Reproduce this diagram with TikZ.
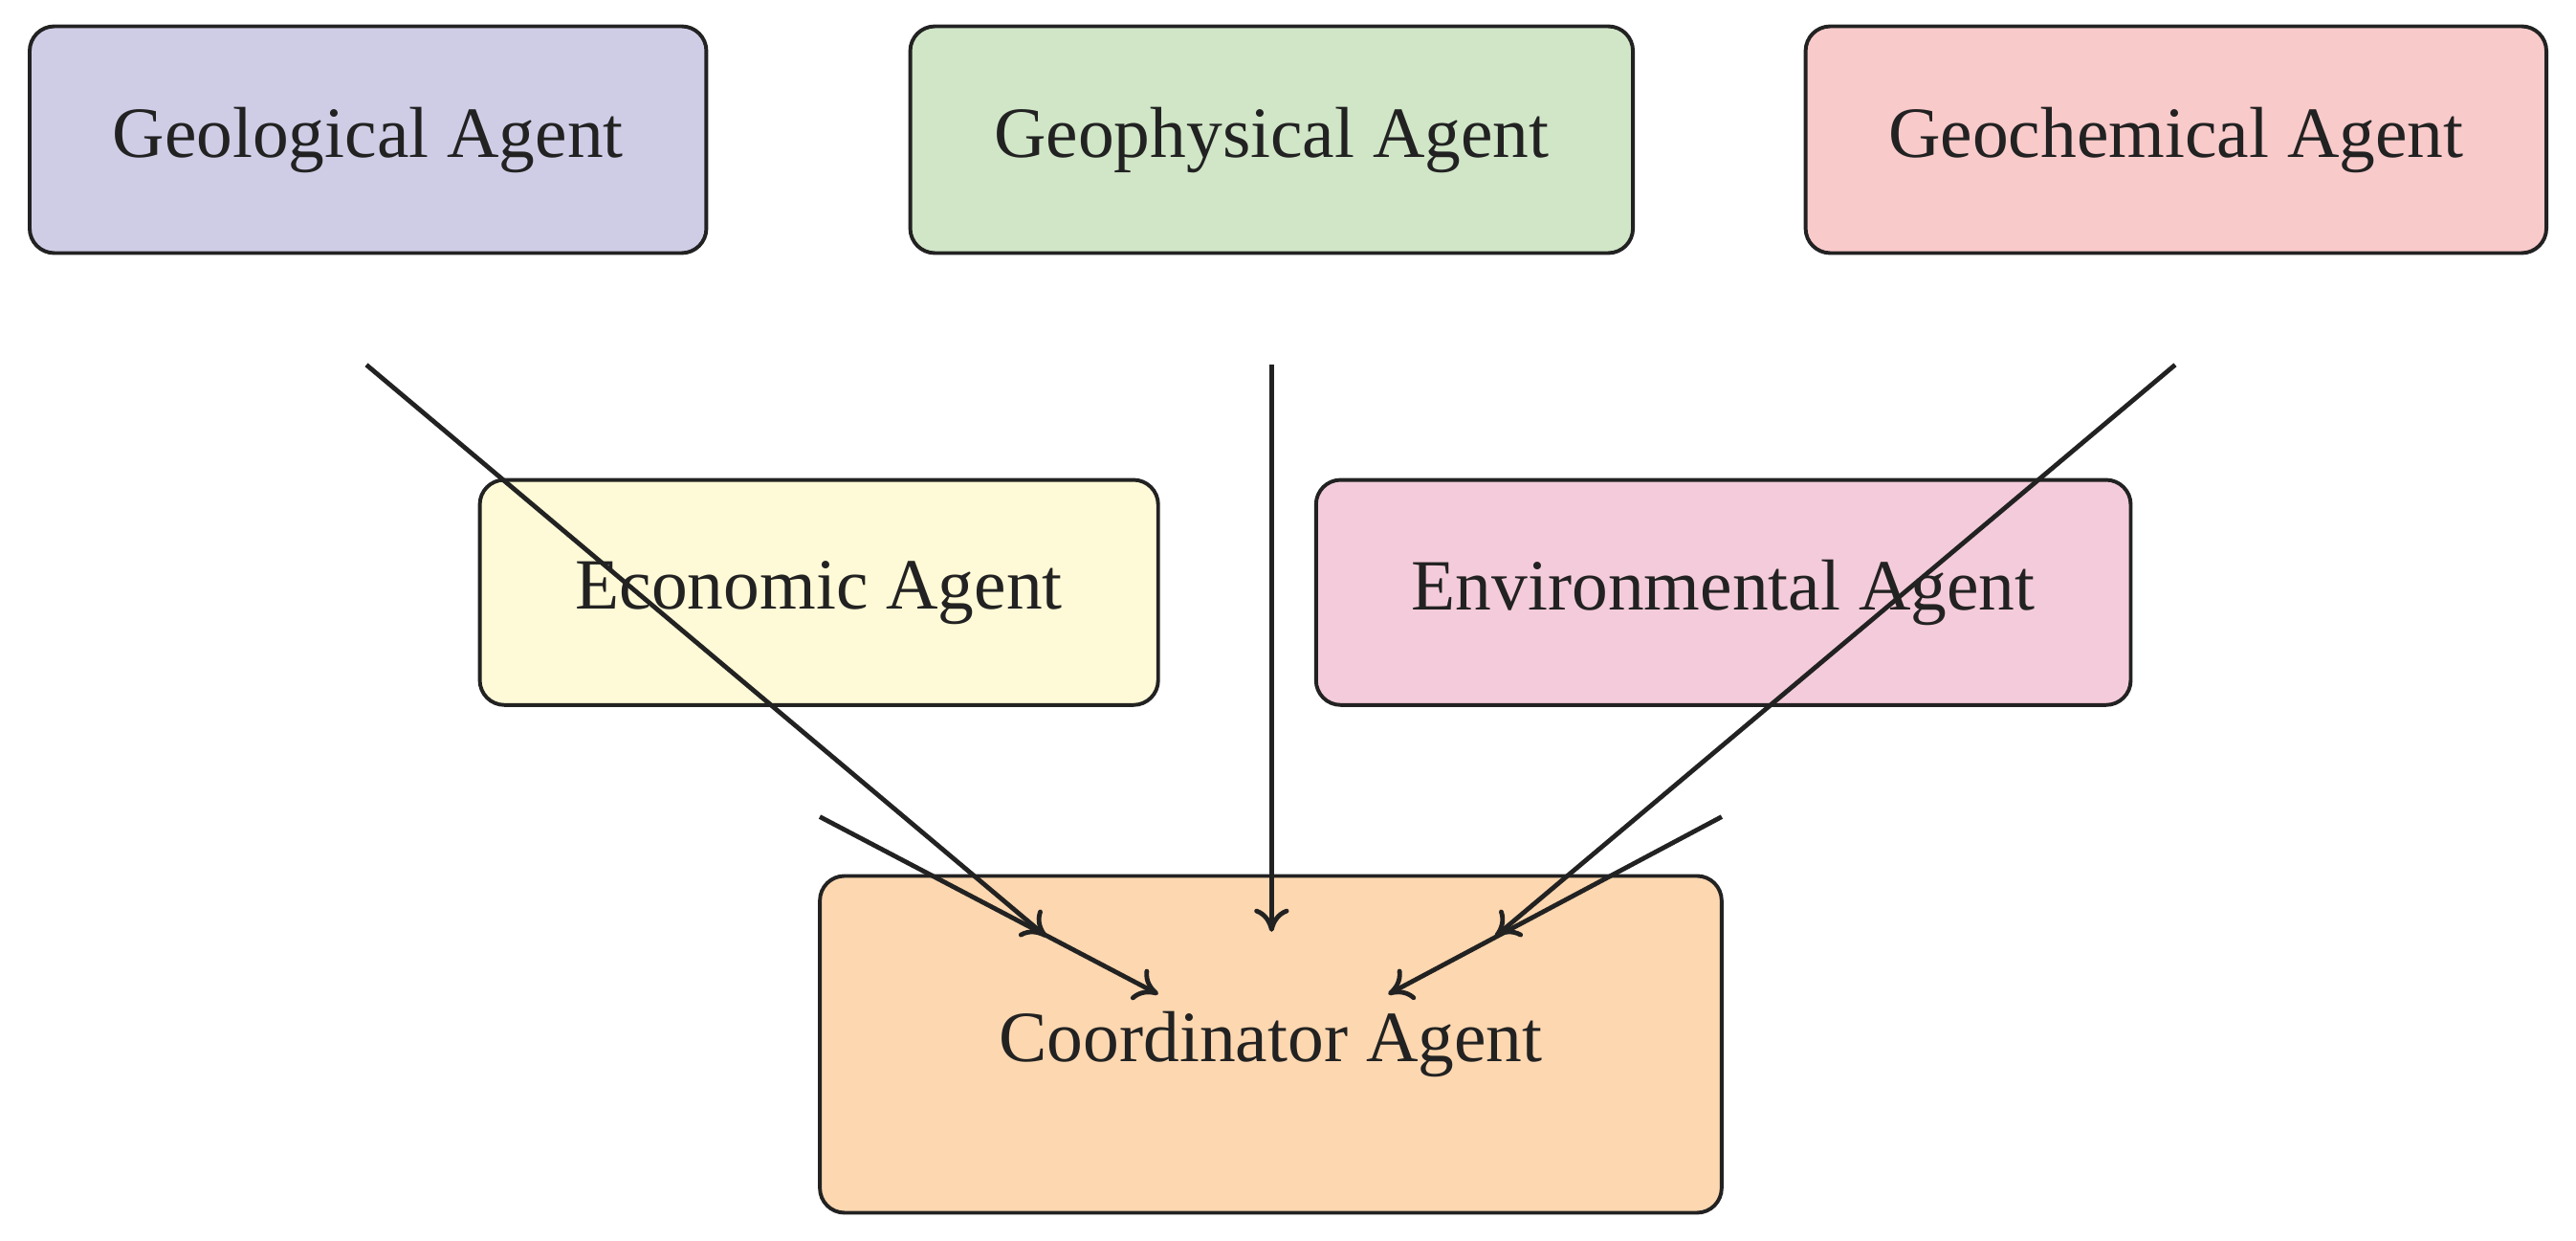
\documentclass[tikz,border=0pt]{standalone}
\usepackage{fontspec}
\setmainfont{Liberation Serif}
\usetikzlibrary{arrows.meta}
\definecolor{cgeo}{HTML}{CFCDE6}
\definecolor{cphy}{HTML}{D0E6C7}
\definecolor{cche}{HTML}{F9CACA}
\definecolor{ceco}{HTML}{FEF9D6}
\definecolor{cenv}{HTML}{F4CBDA}
\definecolor{ccoo}{HTML}{FDD7B0}
\definecolor{ink}{HTML}{222222}
\begin{document}
\begin{tikzpicture}[x=0.02cm,y=-0.02cm,
  box/.style={draw=ink,line width=1.3pt,rounded corners=0.3cm,inner sep=0pt,font=\fontsize{25}{30}\selectfont,text=ink},
  arr/.style={draw=ink,line width=1.6pt,-{To[length=8pt,width=12pt]}}]
\useasboundingbox (0,0) rectangle (1568,755);
\node[box,fill=cgeo,minimum width=8.24cm,minimum height=2.76cm] (geo) at (224,85) {Geological Agent};
\node[box,fill=cphy,minimum width=8.8cm,minimum height=2.76cm] (phy) at (774,85) {Geophysical Agent};
\node[box,fill=cche,minimum width=9.02cm,minimum height=2.76cm] (che) at (1324.5,85) {Geochemical Agent};
\node[box,fill=ceco,minimum width=8.26cm,minimum height=2.74cm] (eco) at (498.5,360.5) {Economic Agent};
\node[box,fill=cenv,minimum width=9.92cm,minimum height=2.74cm] (env) at (1049,360.5) {Environmental Agent};
\node[box,fill=ccoo,minimum width=10.98cm,minimum height=4.1cm] (coo) at (773.5,635.5) {Coordinator Agent};
\coordinate (s1) at (223,222);
\coordinate (s2) at (774,222);
\coordinate (s3) at (1324,222);
\coordinate (s4) at (499,497);
\coordinate (s5) at (1048,497);
\coordinate (t1) at (637,570);
\coordinate (t2) at (774,567);
\coordinate (t3) at (910,570);
\coordinate (t4) at (705,605);
\coordinate (t5) at (845,605);
\draw[arr] (s1) -- (t1);
\draw[arr] (s2) -- (t2);
\draw[arr] (s3) -- (t3);
\draw[arr] (s4) -- (t4);
\draw[arr] (s5) -- (t5);
\end{tikzpicture}
\end{document}
